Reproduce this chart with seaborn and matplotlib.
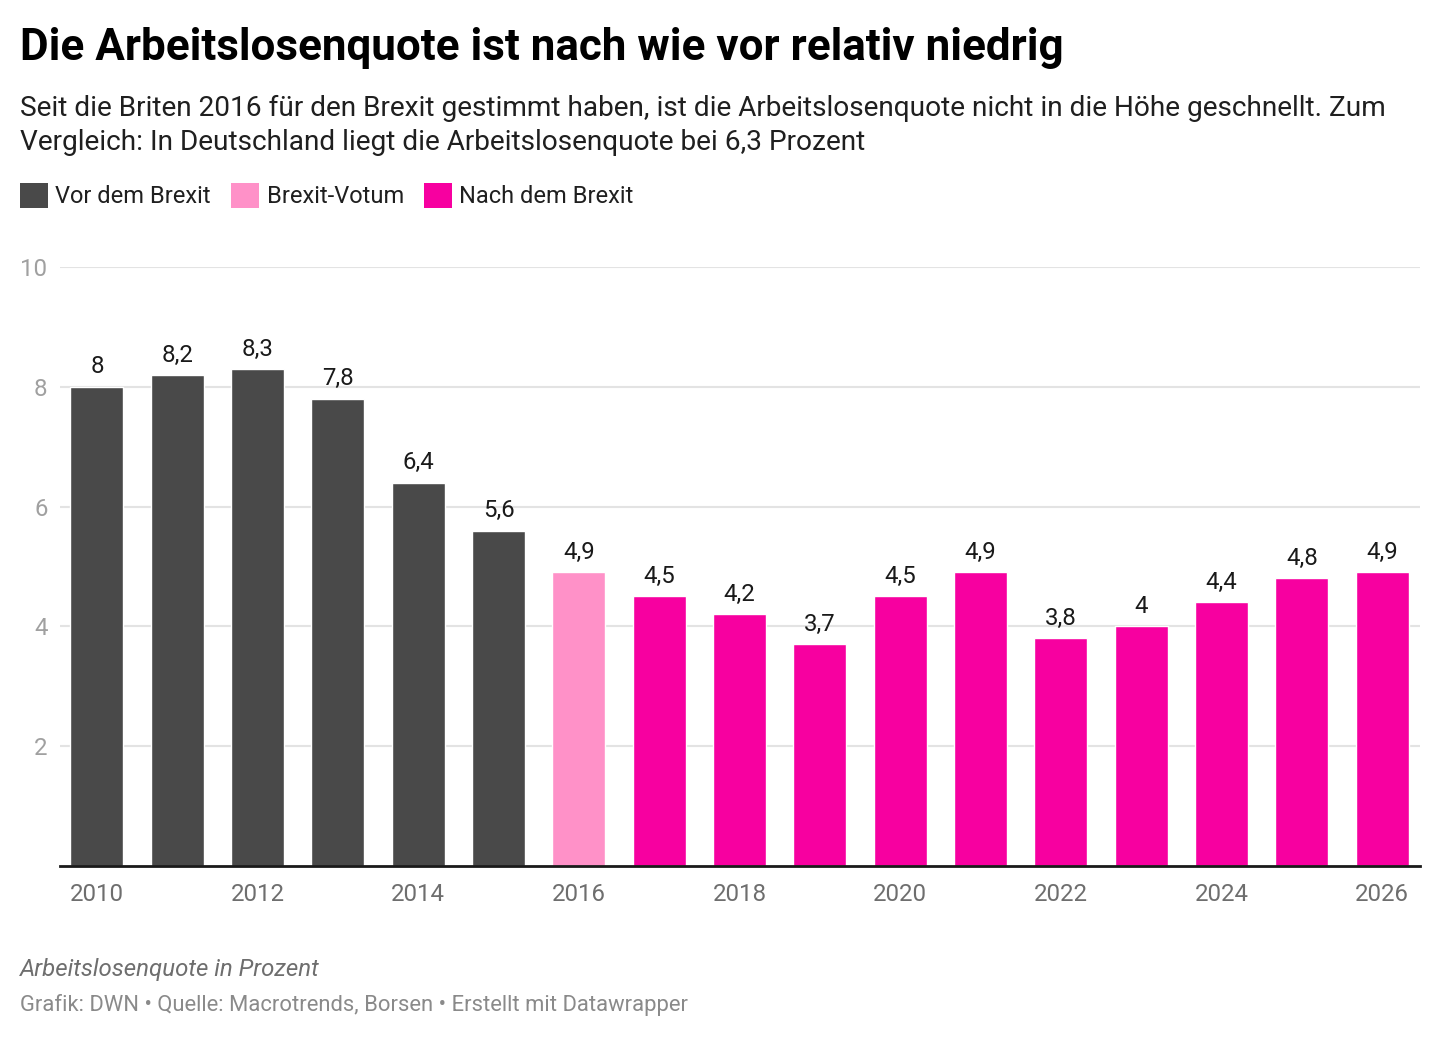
import pandas as pd
import numpy as np
import matplotlib.pyplot as plt
import seaborn as sns
from matplotlib.patches import Patch

# ==========================================
# Daten
# ==========================================
years = [2010, 2011, 2012, 2013, 2014, 2015, 2016, 2017, 2018,
         2019, 2020, 2021, 2022, 2023, 2024, 2025, 2026]
rates = [8.0, 8.2, 8.3, 7.8, 6.4, 5.6, 4.9, 4.5, 4.2,
         3.7, 4.5, 4.9, 3.8, 4.0, 4.4, 4.8, 4.9]
phase = ["Vor dem Brexit"] * 6 + ["Brexit-Votum"] + ["Nach dem Brexit"] * 10

phase_order = ["Vor dem Brexit", "Brexit-Votum", "Nach dem Brexit"]
phase_colors = {"Vor dem Brexit": "#494949",
                "Brexit-Votum": "#ff91c8",
                "Nach dem Brexit": "#f700a0"}

title = "Die Arbeitslosenquote ist nach wie vor relativ niedrig"
subtitle_1 = ("Seit die Briten 2016 für den Brexit gestimmt haben, ist die "
              "Arbeitslosenquote nicht in die Höhe geschnellt. Zum")
subtitle_2 = "Vergleich: In Deutschland liegt die Arbeitslosenquote bei 6,3 Prozent"
note = "Arbeitslosenquote in Prozent"
source = "Grafik: DWN • Quelle: Macrotrends, Borsen • Erstellt mit Datawrapper"

df = pd.DataFrame({"Jahr": [str(y) for y in years], "Quote": rates, "Phase": phase})

# ==========================================
# Stil
# ==========================================
sns.set_theme(style="white")
plt.rcParams['font.family'] = ['Roboto', 'DejaVu Sans']

W, H = 1440, 1038
fig = plt.figure(figsize=(W / 100, H / 100), dpi=100)
ax = fig.add_axes([60 / W, 1 - 866 / H, 1360 / W, 599 / H])

sns.barplot(data=df, x="Jahr", y="Quote", hue="Phase", hue_order=phase_order,
            palette=phase_colors, dodge=False, width=0.66, saturation=1,
            legend=False, ax=ax, zorder=3)

# Werte über den Balken
for cont in ax.containers:
    labels = [f"{v:g}".replace(".", ",") if not np.isnan(v) else ""
              for v in cont.datavalues]
    ax.bar_label(cont, labels=labels, padding=6, fontsize=17.3, color="#1a1a1a")

ax.set_xlim(-0.46, 16.47)
ax.set_ylim(0, 10)
ax.set_yticks([2, 4, 6, 8, 10])
ax.yaxis.grid(True, color="#e3e3e3", linewidth=1.5, zorder=0)
ax.set_axisbelow(True)

xt = list(range(0, len(years), 2))
ax.set_xticks(xt)
ax.set_xticklabels([str(years[i]) for i in xt])
ax.tick_params(axis="x", length=0, pad=12, labelsize=17.3, labelcolor="#6e6e6e")
ax.tick_params(axis="y", length=0, pad=9, labelsize=17.3, labelcolor="#a0a0a0")
ax.set_xlabel("")
ax.set_ylabel("")

for s in ["top", "right", "left"]:
    ax.spines[s].set_visible(False)
ax.spines["bottom"].set_color("#1a1a1a")
ax.spines["bottom"].set_linewidth(2)
ax.spines["bottom"].set_zorder(5)

# ==========================================
# Titel, Legende, Fußzeile
# ==========================================
fig.text(20 / W, 1 - 60 / H, title, fontsize=31.7, fontweight="bold",
         color="#000000", va="baseline", ha="left")
fig.text(20 / W, 1 - 116 / H, subtitle_1, fontsize=20.2, color="#1f1f1f",
         va="baseline", ha="left")
fig.text(20 / W, 1 - 150 / H, subtitle_2, fontsize=20.2, color="#1f1f1f",
         va="baseline", ha="left")

handles = [Patch(facecolor=phase_colors[p], edgecolor="none", label=p)
           for p in phase_order]
fig.legend(handles=handles, loc="upper left", bbox_to_anchor=(20 / W, 1 - 183 / H),
           ncol=3, frameon=False, fontsize=17, handlelength=1.2,
           handleheight=1.25, handletextpad=0.3, columnspacing=0.85,
           borderpad=0, borderaxespad=0, labelcolor="#1f1f1f")

fig.text(20 / W, 1 - 976 / H, note, fontsize=17.3, style="italic",
         color="#6e6e6e", va="baseline", ha="left")
fig.text(20 / W, 1 - 1011 / H, source, fontsize=15.8, color="#8a8a8a",
         va="baseline", ha="left")

fig.savefig("out.png", dpi=100, facecolor="white")
